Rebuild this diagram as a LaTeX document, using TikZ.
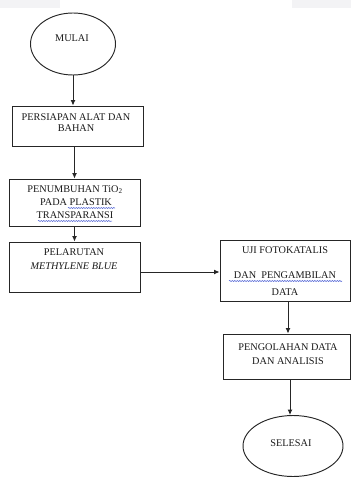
\documentclass[tikz,border=0pt]{standalone}
\usepackage{fontspec}
\setmainfont{Liberation Serif}
\usetikzlibrary{arrows.meta,shapes.geometric,decorations.pathmorphing}
\definecolor{spellblue}{RGB}{70,90,210}
\definecolor{tabgray}{RGB}{243,243,245}
\begin{document}
\begin{tikzpicture}[x=1bp,y=-1bp,
  line/.style={draw=black!85,line width=0.95bp},
  arr/.style={line,-{Latex[length=5.5bp,width=5bp]}},
  boxn/.style={line,rectangle,inner sep=0pt},
  ov/.style={line,ellipse,inner sep=0pt},
  txt/.style={font=\fontsize{10.3}{12}\selectfont,inner sep=0pt,anchor=base,text=black!90},
  spell/.style={draw=spellblue,line width=0.5bp,decorate,decoration={snake,amplitude=0.6bp,segment length=2.5bp}}]
\useasboundingbox (0,0) rectangle (351,477);
\fill[tabgray] (0,0) rectangle (60,8);
\fill[tabgray] (292,0) rectangle (351,8);

% shapes
\node[ov,minimum width=85bp,minimum height=62bp] (mulai) at (73,44) {};
\node[boxn,minimum width=131bp,minimum height=40bp] (box1) at (77.5,126) {};
\node[boxn,minimum width=131bp,minimum height=47bp] (box2) at (74.5,202.5) {};
\node[boxn,minimum width=131bp,minimum height=50bp] (box3) at (74.5,267) {};
\node[boxn,minimum width=130bp,minimum height=61bp] (box4) at (285,270.5) {};
\node[boxn,minimum width=127bp,minimum height=45bp] (box5) at (286.5,356.5) {};
\node[ov,minimum width=100bp,minimum height=61bp] (selesai) at (293,446) {};

% texts
\node[txt] (tm) at (72,41.5) {MULAI};
\node[txt] (t1a) at (76,120.5) {PERSIAPAN ALAT DAN};
\node[txt] (t1b) at (76,131.5) {BAHAN};
\node[txt] (t2a) at (75,192.5) {PENUMBUHAN TiO\textsubscript{2}};
\node[txt] (t2b) at (76,205.5) {PADA PLASTIK};
\node[txt] (t2c) at (75,218.5) {TRANSPARANSI};
\node[txt] (t3a) at (74,255.5) {PELARUTAN};
\node[txt] (t3b) at (74,269.5) {\itshape METHYLENE BLUE};
\node[txt] (t4a) at (285,253.5) {UJI FOTOKATALIS};
\node[txt] (t4b) at (285,278.5) {DAN\ \ PENGAMBILAN};
\node[txt] (t4c) at (285,295.5) {DATA};
\node[txt] (t5a) at (288,350) {PENGOLAHAN DATA};
\node[txt] (t5b) at (288,364.5) {DAN ANALISIS};
\node[txt] (ts) at (291,446.5) {SELESAI};

% spell-check underlines
\coordinate (s1a) at (68,208);
\coordinate (s1b) at (115,208);
\coordinate (s2a) at (38,221);
\coordinate (s2b) at (112,221);
\coordinate (s3a) at (229,281);
\coordinate (s3b) at (342,281);
\draw[spell] (s1a) -- (s1b);
\draw[spell] (s2a) -- (s2b);
\draw[spell] (s3a) -- (s3b);

% connectors
\draw[arr] (mulai.south) -- (mulai.south |- box1.north);
\draw[arr] (box1.south -| box2.north) -- (box2.north);
\draw[arr] (box2.south) -- (box3.north);
\coordinate (c34) at ([yshift=-5bp]box3.east);
\draw[arr] (c34) -- (c34 -| box4.west);
\coordinate (c45) at ([xshift=3bp]box4.south);
\draw[arr] (c45) -- (c45 |- box5.north);
\coordinate (c56) at ([xshift=3.5bp]box5.south);
\draw[arr] (c56) -- (c56 |- selesai.north);
\end{tikzpicture}
\end{document}
